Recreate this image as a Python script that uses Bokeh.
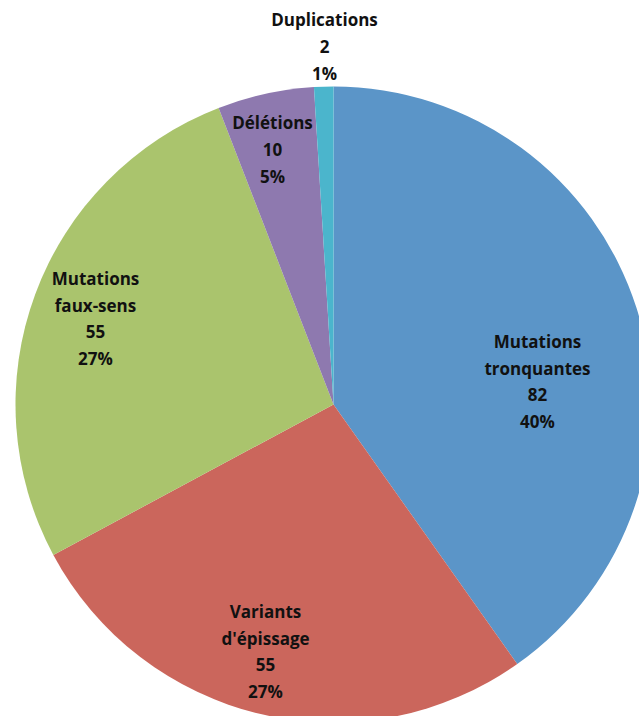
import numpy as np
from bokeh.plotting import figure
from bokeh.models import Range1d, ColumnDataSource
from bokeh.core.properties import value
from bokeh.embed import file_html
from bokeh.resources import INLINE

# data
categories = ["Mutations\ntronquantes", "Variants\nd'épissage", "Mutations\nfaux-sens", "Délétions", "Duplications"]
counts = [82, 55, 55, 10, 2]
percents = ["40%", "27%", "27%", "5%", "1%"]
colors = ["#5b95c8", "#cb665c", "#aac46d", "#8e79af", "#4bb5cc"]

# label anchor positions (page-pixel coordinates of label centre)
label_x = [537, 265, 95, 272, 324]
label_y = [381, 651, 318, 149, 46]

W, H = 639, 716
cx, cy, R = 333, 404, 318

p = figure(width=W, height=H, output_backend="svg", toolbar_location=None,
           x_range=Range1d(0, W), y_range=Range1d(0, H), min_border=0)
p.axis.visible = False
p.grid.visible = False
p.outline_line_color = None
p.background_fill_color = "white"

total = sum(counts)
frac = np.array(counts) / total
cum = np.concatenate([[0], np.cumsum(frac)])
start = np.pi / 2 - cum[:-1] * 2 * np.pi
end = np.pi / 2 - cum[1:] * 2 * np.pi

src = ColumnDataSource(dict(start=start, end=end, color=colors))
p.wedge(x=cx, y=H - cy, radius=R, start_angle="start", end_angle="end",
        direction="clock", fill_color="color", line_color=None, source=src)

texts = [f"{c}\n{n}\n{pc}" for c, n, pc in zip(categories, counts, percents)]
lsrc = ColumnDataSource(dict(x=label_x, y=[H - y for y in label_y], t=texts))
p.text(x="x", y="y", text="t", source=lsrc, text_align="center", text_baseline="middle",
       text_font=value("Open Sans"), text_font_style="bold", text_font_size="17px",
       text_color="#111111", text_line_height=1.17)

open("out.html", "w").write(file_html(p, INLINE))
